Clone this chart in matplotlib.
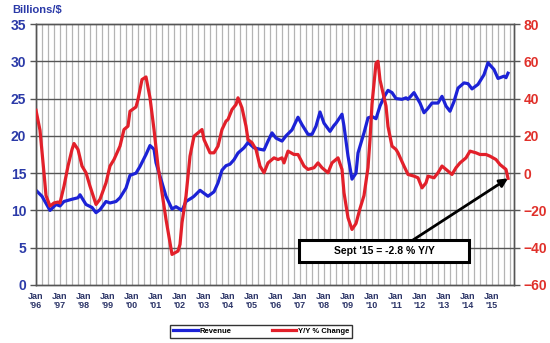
import matplotlib
matplotlib.use("Agg")
import matplotlib.pyplot as plt
from matplotlib.patches import Rectangle

plt.rcParams['font.family'] = ['Liberation Sans', 'DejaVu Sans']

# months counted from Jan 1996
rev_month = [0, 3, 7, 10, 12, 14, 18, 21, 22, 25, 28, 30, 32, 35, 37, 40, 42, 45, 47, 50,
             52, 55, 57, 59, 60, 63, 65, 68, 70, 73, 75, 78, 79, 82, 84, 86, 89, 91, 93, 95,
             97, 99, 101, 104, 106, 109, 112, 114, 116, 118, 120, 123, 125, 128, 131, 133,
             136, 138, 140, 142, 144, 147, 149, 150, 153, 154, 156, 158, 160, 161, 164, 166,
             168, 170, 172, 174, 176, 178, 180, 183, 185, 186, 188, 189, 192, 194, 196, 198,
             201, 203, 205, 207, 209, 211, 214, 216, 218, 221, 224, 226, 229, 231, 234, 235, 236]
revenue = [12.7, 11.9, 10.0, 10.8, 10.6, 11.2, 11.5, 11.7, 12.1, 10.8, 10.4, 9.7, 10.1, 11.2,
           11.0, 11.2, 11.7, 13.0, 14.7, 15.0, 15.9, 17.5, 18.7, 18.2, 16.4, 13.7, 11.9, 10.2,
           10.5, 10.0, 11.2, 11.7, 11.9, 12.7, 12.3, 11.9, 12.5, 13.7, 15.4, 16.0, 16.2, 16.8,
           17.7, 18.4, 19.1, 18.4, 18.2, 18.1, 19.3, 20.4, 19.7, 19.3, 20.0, 20.8, 22.5, 21.5,
           20.2, 20.2, 21.3, 23.2, 21.7, 20.6, 21.4, 21.7, 22.9, 21.3, 17.3, 14.2, 15.0, 17.7,
           20.4, 22.4, 22.6, 22.3, 24.0, 25.2, 26.1, 25.8, 25.0, 24.9, 25.1, 24.9, 25.5, 25.8,
           24.4, 23.1, 23.7, 24.4, 24.4, 25.3, 24.0, 23.3, 24.6, 26.4, 27.1, 27.0, 26.3, 26.9,
           28.2, 29.8, 28.9, 27.7, 28.0, 27.8, 28.4]

yoy_month = [0, 2, 4, 5, 7, 9, 11, 12, 14, 16, 18, 19, 21, 23, 25, 27, 30, 32, 35, 37, 39,
             42, 44, 46, 47, 50, 51, 53, 55, 57, 59, 61, 63, 65, 67, 68, 71, 72, 73, 75, 77,
             79, 80, 83, 84, 87, 89, 91, 93, 95, 96, 98, 100, 101, 103, 105, 106, 108, 110,
             112, 114, 116, 119, 121, 123, 124, 126, 129, 131, 134, 136, 139, 141, 143, 146,
             148, 151, 153, 154, 156, 158, 160, 162, 164, 166, 167, 168, 170, 171, 172, 175,
             176, 178, 180, 181, 184, 186, 189, 191, 193, 195, 196, 199, 201, 203, 206, 208,
             210, 212, 215, 217, 220, 222, 225, 227, 230, 232, 235, 236]
yoy = [33.7, 23.0, 0.0, -12.0, -17.7, -16.0, -15.5, -16.0, -7.0, 3.8, 12.7, 15.9, 12.7, 3.8,
       0.2, -7.0, -16.8, -14.0, -5.2, 3.8, 7.3, 14.5, 23.4, 25.2, 33.2, 35.5, 39.5, 50.2, 51.6,
       40.4, 23.4, 3.8, -10.5, -24.8, -37.3, -43.6, -41.8, -38.2, -26.6, -12.3, 9.1, 19.8,
       20.7, 23.4, 18.0, 10.9, 10.9, 14.5, 23.4, 27.9, 28.8, 34.1, 36.8, 40.4, 35.0, 25.2,
       18.0, 16.3, 12.7, 3.8, 0.2, 5.5, 8.2, 7.3, 8.2, 5.5, 11.8, 10.0, 10.0, 3.8, 2.0, 2.9,
       5.5, 2.9, 0.2, 5.5, 8.2, 2.0, -10.5, -23.9, -30.2, -27.0, -19.0, -12.0, 3.0, 18.0,
       37.0, 59.0, 60.0, 50.0, 36.0, 25.0, 14.5, 12.7, 10.9, 3.8, -0.7, -1.6, -2.5, -7.9,
       -5.2, -1.6, -2.5, 0.2, 3.8, 1.1, -0.7, 2.9, 5.5, 8.2, 11.8, 10.9, 10.0, 10.0, 9.1,
       7.3, 4.6, 2.0, -2.8]

year_labels = ["'96", "'97", "'98", "'99", "'00", "'01", "'02", "'03", "'04", "'05",
               "'06", "'07", "'08", "'09", "'10", "'11", "'12", "'13", "'14", "'15"]

blue = '#1c22d6'
red = '#e2202a'
label_blue = '#2b3aa8'
label_red = '#e0302a'

fig = plt.figure(figsize=(5.5, 3.43), dpi=100)
ax = fig.add_axes([36 / 550, 1 - 285 / 343, 478 / 550, 261 / 343])
ax2 = ax.twinx()

# quarterly vertical grid, darker horizontal grid
for m in range(0, 240, 3):
    ax.axvline(m, color='#b4b4b4', lw=0.9, zorder=0)
for v in range(5, 35, 5):
    ax.axhline(v, color='#555555', lw=1.0, zorder=0)

ax.plot(rev_month, revenue, color=blue, lw=2.3, solid_joinstyle='round', zorder=3, label='Revenue')
ax2.plot(yoy_month, yoy, color=red, lw=2.3, solid_joinstyle='round', zorder=3, label='Y/Y % Change')

ax.set_xlim(0, 239)
ax.set_ylim(0, 35)
ax2.set_ylim(-60, 80)
ax.set_yticks(range(0, 36, 5))
ax2.set_yticks(range(-60, 81, 20))

ax.set_xticks(range(0, 229, 12))
ax.set_xticklabels(['Jan\n' + y for y in year_labels], fontsize=6.5, fontweight='bold',
                   color='#2c3568', linespacing=1.0)
ax.tick_params(axis='x', length=0, pad=5)
ax.tick_params(axis='y', length=4, width=1, color='#555555', pad=3)
ax2.tick_params(axis='y', length=4, width=1, color='#555555', pad=3)
for t in ax.get_yticklabels():
    t.set_fontsize(10)
    t.set_fontweight('bold')
    t.set_color(label_blue)
for t in ax2.get_yticklabels():
    t.set_fontsize(10)
    t.set_fontweight('bold')
    t.set_color(label_red)

for a in (ax, ax2):
    for s in a.spines.values():
        s.set_color('#555555')
        s.set_linewidth(1.0)

fig.text(12 / 550, 1 - 10 / 343, 'Billions/$', fontsize=8, fontweight='bold',
         color=label_blue, va='center', ha='left')

# callout for the latest month
ax2.annotate('', xy=(yoy_month[-1], yoy[-1]), xytext=(413 / 550, 1 - 240 / 343),
             textcoords='figure fraction',
             arrowprops=dict(arrowstyle='-|>', lw=2, color='black', mutation_scale=12,
                             shrinkA=0, shrinkB=0))
fig.patches.append(Rectangle((299 / 550, 1 - 262 / 343), 170 / 550, 22 / 343,
                             transform=fig.transFigure, facecolor='white',
                             edgecolor='black', lw=2.2, zorder=5))
fig.text(384 / 550, 1 - 251 / 343, "Sept '15 = -%.1f %% Y/Y" % abs(yoy[-1]), fontsize=7.5,
         fontweight='bold', ha='center', va='center', zorder=6)

h1, l1 = ax.get_legend_handles_labels()
h2, l2 = ax2.get_legend_handles_labels()
leg = fig.legend(h1 + h2, l1 + l2, loc='lower left', ncol=2, mode='expand',
                 bbox_to_anchor=(170 / 550, 1 - 338 / 343, 182 / 550, 17 / 343),
                 prop={'size': 5.5, 'weight': 'bold'}, frameon=True, fancybox=False,
                 handlelength=3.2, handletextpad=0.2, borderpad=0.4, borderaxespad=0)
leg.get_frame().set_edgecolor('black')
leg.get_frame().set_linewidth(1.0)

fig.savefig('out.png', dpi=100)
